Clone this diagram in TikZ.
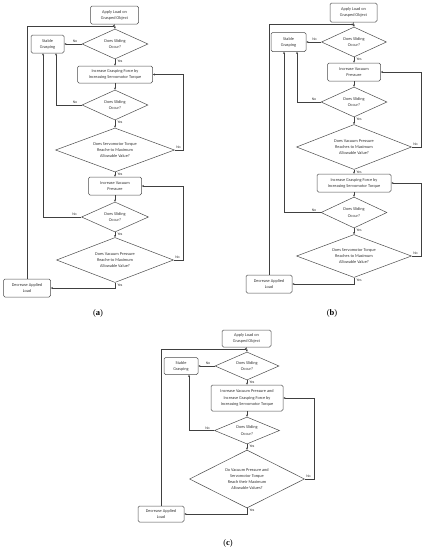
\documentclass[tikz,border=0pt]{standalone}
\usepackage{fontspec}
\setmainfont{Carlito}
\newfontfamily\capfont{Liberation Serif}
\usetikzlibrary{shapes.geometric,arrows.meta}
\begin{document}
\begin{tikzpicture}[x=1pt,y=-1pt,
  every node/.style={font=\fontsize{4.3}{6.2}\selectfont, text=black!80},
  box/.style={draw=black!70, line width=0.5pt, rounded corners=1.5pt, align=center, inner sep=0pt},
  dia/.style={diamond, draw=black!70, line width=0.5pt, inner sep=0pt, aspect=2.4, align=center},
  arr/.style={draw=black!75, line width=0.45pt, -{Stealth[length=2.2pt,width=2pt]}},
  lbl/.style={font=\fontsize{3.8}{4.5}\selectfont, inner sep=0.3pt},
  nol/.style={lbl, anchor=south east, xshift=-4pt, yshift=0.8pt},
  nor/.style={lbl, anchor=south west, xshift=1pt, yshift=0.8pt},
  yes/.style={lbl, anchor=north west, xshift=2pt, yshift=-0.3pt},
  captext/.style={font=\capfont\fontsize{8.5}{10}\selectfont, text=black}
]
\useasboundingbox (0,0) rectangle (426,550);

% ---------------- (a) ----------------
\node[box, minimum width=48, minimum height=18] (Aa) at (114.5,15) {Apply Load on\\Grasped Object};
\node[dia, minimum width=66, minimum height=30] (D1a) at (115,44) {Does Sliding\\Occur?};
\node[box, minimum width=33, minimum height=18] (Sa) at (47.5,44) {Stable\\Grasping};
\node[box, minimum width=75, minimum height=17] (B1a) at (115,74.5) {Increase Grasping Force by\\Increasing Servomotor Torque};
\node[dia, minimum width=66, minimum height=30] (D2a) at (115,105) {Does Sliding\\Occur?};
\node[dia, minimum width=119, minimum height=44] (D3a) at (115,150) {Does Servomotor Torque\\Reache to Maximum\\Allowable Value?};
\node[box, minimum width=53, minimum height=18] (B2a) at (115,186) {Increase Vacuum\\Pressure};
\node[dia, minimum width=67, minimum height=30] (D4a) at (115,217) {Does Sliding\\Occur?};
\node[dia, minimum width=117, minimum height=45] (D5a) at (115,260) {Does Vacuum Pressure\\Reache to Maximum\\Allowable Value?};
\node[box, minimum width=47, minimum height=18] (Ea) at (27,288) {Decrease Applied\\Load};
\node[captext] (Ca) at (98,313) {(\textbf{a})};
\coordinate (ra) at (183,0);
\coordinate (la1) at (56,0);
\coordinate (la2) at (43,0);
\coordinate (ta) at (115,26);

\draw[arr] (Aa.south) -- (D1a.north);
\draw[arr] (D1a.west) node[nol]{No} -- (Sa.east);
\draw[arr] (D1a.south) node[yes]{Yes} -- (B1a.north);
\draw[arr] (B1a.south) -- (D2a.north);
\draw[arr] (D2a.west) node[nol]{No} -| (Sa.south -| la1);
\draw[arr] (D2a.south) node[yes]{Yes} -- (D3a.north);
\draw[arr] (D3a.east) node[nor]{No} -- (D3a.east -| ra) |- (B1a.east);
\draw[arr] (D3a.south) node[yes]{Yes} -- (B2a.north);
\draw[arr] (B2a.south) -- (D4a.north);
\draw[arr] (D4a.west) node[nol]{No} -| (Sa.south -| la2);
\draw[arr] (D4a.south) node[yes]{Yes} -- (D5a.north);
\draw[arr] (D5a.east) node[nor]{No} -- (D5a.east -| ra) |- (B2a.east);
\draw[arr] (D5a.south) node[yes]{Yes} |- (Ea.east);
\draw[arr] (Ea.north) |- (ta);

% ---------------- (b) ----------------
\node[box, minimum width=47, minimum height=19] (Ab) at (353.5,12.5) {Apply Load on\\Grasped Object};
\node[dia, minimum width=65, minimum height=30] (D1b) at (354,42) {Does Sliding\\Occur?};
\node[box, minimum width=35, minimum height=19] (Sb) at (288.5,42) {Stable\\Grasping};
\node[box, minimum width=53, minimum height=18] (B1b) at (354,72) {Increase Vacuum\\Pressure};
\node[dia, minimum width=66, minimum height=30] (D2b) at (354,102) {Does Sliding\\Occur?};
\node[dia, minimum width=115, minimum height=45] (D3b) at (354,147) {Does Vacuum Pressure\\Reaches to Maximum\\Allowable Value?};
\node[box, minimum width=74, minimum height=18] (B2b) at (354,183) {Increase Grasping Force by\\Increasing Servomotor Torque};
\node[dia, minimum width=66, minimum height=31] (D4b) at (354,212.5) {Does Sliding\\Occur?};
\node[dia, minimum width=115, minimum height=43] (D5b) at (354,256) {Does Servomotor Torque\\Reaches to Maximum\\Allowable Value?};
\node[box, minimum width=46, minimum height=18] (Eb) at (269,284) {Decrease Applied\\Load};
\node[captext] (Cb) at (332,313) {(\textbf{b})};
\coordinate (rb) at (421,0);
\coordinate (lb1) at (297,0);
\coordinate (lb2) at (284,0);
\coordinate (tb) at (354,24.5);

\draw[arr] (Ab.south) -- (D1b.north);
\draw[arr] (D1b.west) node[nol]{No} -- (Sb.east);
\draw[arr] (D1b.south) node[yes]{Yes} -- (B1b.north);
\draw[arr] (B1b.south) -- (D2b.north);
\draw[arr] (D2b.west) node[nol]{No} -| (Sb.south -| lb1);
\draw[arr] (D2b.south) node[yes]{Yes} -- (D3b.north);
\draw[arr] (D3b.east) node[nor]{No} -- (D3b.east -| rb) |- (B1b.east);
\draw[arr] (D3b.south) node[yes]{Yes} -- (B2b.north);
\draw[arr] (B2b.south) -- (D4b.north);
\draw[arr] (D4b.west) node[nol]{No} -| (Sb.south -| lb2);
\draw[arr] (D4b.south) node[yes]{Yes} -- (D5b.north);
\draw[arr] (D5b.east) node[nor]{No} -- (D5b.east -| rb) |- (B2b.east);
\draw[arr] (D5b.south) node[yes]{Yes} |- (Eb.east);
\draw[arr] (Eb.north) |- (tb);

% ---------------- (c) ----------------
\node[box, minimum width=49, minimum height=17] (Ac) at (246.5,338.5) {Apply Load on\\Grasped Object};
\node[dia, minimum width=64, minimum height=28] (D1c) at (247,366) {Does Sliding\\Occur?};
\node[box, minimum width=34, minimum height=17] (Sc) at (181,366) {Stable\\Grasping};
\node[box, minimum width=72, minimum height=26] (Bc) at (247,398) {Increase Vacuum Pressure and\\Increase Grasping Force by\\Increasing Servomotor Torque};
\node[dia, minimum width=65, minimum height=27] (D2c) at (247,430.5) {Does Sliding\\Occur?};
\node[dia, minimum width=115, minimum height=58] (D3c) at (247,479) {Do Vacuum Pressure and\\Servomotor Torque\\Reach their Maximum\\Allowable Values?};
\node[box, minimum width=46, minimum height=16] (Ec) at (161,514) {Decrease Applied\\Load};
\node[captext] (Cc) at (228,543) {(\textbf{c})};
\coordinate (rc) at (314,0);
\coordinate (lc1) at (189,0);
\coordinate (tc) at (247,349);

\draw[arr] (Ac.south) -- (D1c.north);
\draw[arr] (D1c.west) node[nol]{No} -- (Sc.east);
\draw[arr] (D1c.south) node[yes]{Yes} -- (Bc.north);
\draw[arr] (Bc.south) -- (D2c.north);
\draw[arr] (D2c.west) node[nol]{No} -| (Sc.south -| lc1);
\draw[arr] (D2c.south) node[yes]{Yes} -- (D3c.north);
\draw[arr] (D3c.east) node[nor]{No} -- (D3c.east -| rc) |- (Bc.east);
\draw[arr] (D3c.south) node[yes]{Yes} |- (Ec.east);
\draw[arr] (Ec.north) |- (tc);
\end{tikzpicture}
\end{document}
